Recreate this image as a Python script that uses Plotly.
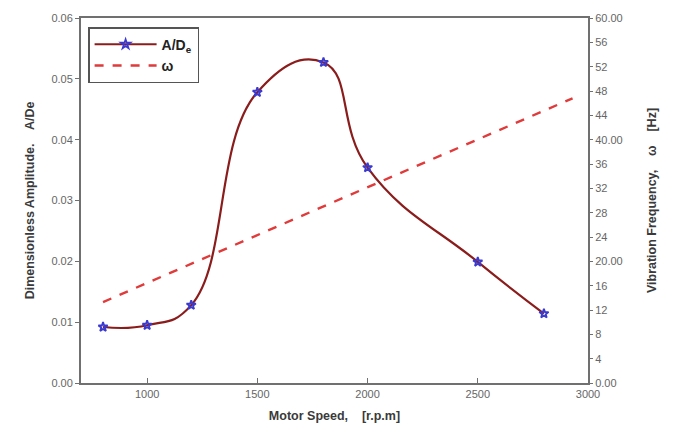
import plotly.graph_objects as go

# Data
speed_rpm = [800, 1000, 1200, 1500, 1800, 2000, 2500, 2800]
amp_ade = [0.0092, 0.0095, 0.0128, 0.0478, 0.0527, 0.0354, 0.0199, 0.0114]
omega_rpm = [800, 2930]
omega_hz = [13.3, 46.8]

x_ticks = [1000, 1500, 2000, 2500, 3000]
y_left_ticks = [0.00, 0.01, 0.02, 0.03, 0.04, 0.05, 0.06]
y_left_text = ["0.00", "0.01", "0.02", "0.03", "0.04", "0.05", "0.06"]
y_right_ticks = list(range(0, 61, 4))
y_right_text = ["0.00", "4", "8", "12", "16", "20.00", "24", "28", "32", "36",
                "40.00", "44", "48", "52", "56", "60.00"]

FONT = "Liberation Sans, Arial, sans-serif"
AXIS_COL = "#707070"
TICK_COL = "#666666"
TITLE_COL = "#3a3a3a"

fig = go.Figure()
fig.add_trace(go.Scatter(
    x=speed_rpm, y=amp_ade, name="<b>A/D<sub>e</sub></b>",
    mode="lines+markers",
    line=dict(color="#8b1c1c", width=2.2, shape="spline", smoothing=1.3),
    marker=dict(symbol="star-open", size=7, color="#3a3ad0", line=dict(width=1.8, color="#3a3ad0")),
    yaxis="y",
))
fig.add_trace(go.Scatter(
    x=omega_rpm, y=omega_hz, name="<b>ω</b>",
    mode="lines",
    line=dict(color="#e03a3a", width=2.4, dash="dash"),
    yaxis="y2",
))

fig.update_layout(
    width=680, height=441,
    margin=dict(l=81, r=92, t=18, b=58),
    paper_bgcolor="white", plot_bgcolor="white",
    font=dict(family=FONT, size=11, color=TICK_COL),
    showlegend=True,
    legend=dict(
        x=0.014, y=0.975, xanchor="left", yanchor="top",
        bgcolor="white", bordercolor="#555555", borderwidth=1.5,
        font=dict(family=FONT, size=14, color="#222222"),
        itemwidth=62, tracegroupgap=6,
    ),
    xaxis=dict(
        range=[700, 3000], tickvals=x_ticks, ticktext=[str(v) for v in x_ticks],
        showgrid=False, zeroline=False,
        showline=True, linecolor=AXIS_COL, linewidth=2, mirror=True,
        ticks="inside", ticklen=5, tickcolor=AXIS_COL,
        title=dict(text="<b>Motor Speed,    [r.p.m]</b>", font=dict(size=12.5, color=TITLE_COL), standoff=12),
    ),
    yaxis=dict(
        range=[0, 0.06], tickvals=y_left_ticks, ticktext=y_left_text,
        showgrid=False, zeroline=False,
        showline=True, linecolor=AXIS_COL, linewidth=2,
        ticks="outside", ticklen=4, tickcolor=AXIS_COL,
        title=dict(text="<b>Dimensionless Amplitude.    A/De</b>", font=dict(size=12.5, color=TITLE_COL), standoff=14),
    ),
    yaxis2=dict(
        range=[0, 60], tickvals=y_right_ticks, ticktext=y_right_text,
        overlaying="y", side="right",
        showgrid=False, zeroline=False,
        showline=True, linecolor=AXIS_COL, linewidth=2,
        ticks="outside", ticklen=3, tickcolor=AXIS_COL,
        title=dict(text="<b>Vibration Frequency,    ω    [Hz]</b>", font=dict(size=12.5, color=TITLE_COL), standoff=26),
    ),
)

fig.write_html("out.html")
